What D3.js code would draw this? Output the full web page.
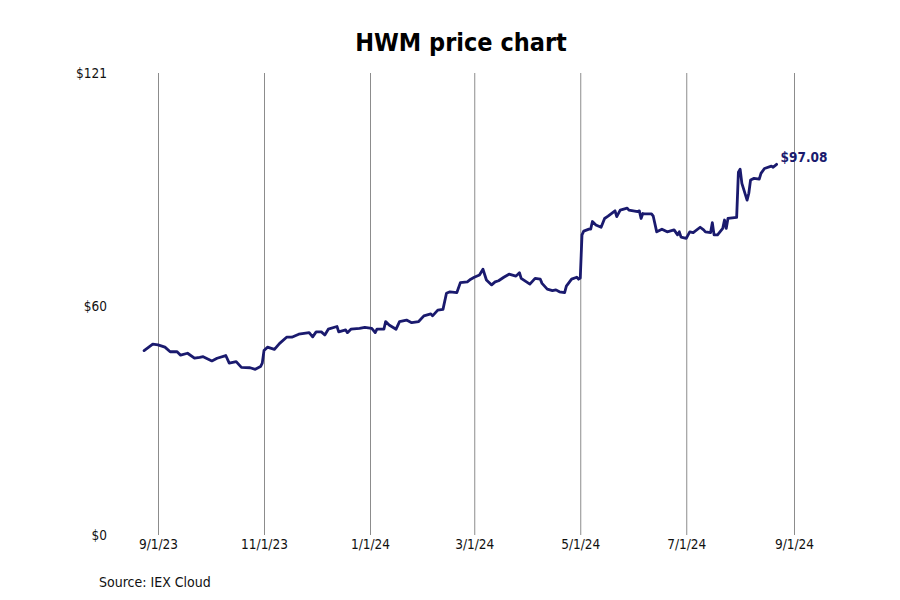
<!DOCTYPE html>
<html>
<head>
<meta charset="utf-8">
<script src="https://cdn.jsdelivr.net/npm/d3@7"></script>
<style>
  body { margin: 0; background: #fff; }
  text { font-family: "DejaVu Sans Condensed", "DejaVu Sans", sans-serif; }
</style>
</head>
<body>
<div id="chart"></div>
<script>
// HWM closing prices
var dates = [
  "2023-08-24","2023-08-29","2023-09-01","2023-09-05","2023-09-08","2023-09-12","2023-09-14","2023-09-18",
  "2023-09-22","2023-09-25","2023-09-27","2023-10-02","2023-10-05","2023-10-10","2023-10-12","2023-10-16",
  "2023-10-19","2023-10-24","2023-10-27","2023-10-30","2023-10-31","2023-11-01","2023-11-03","2023-11-07",
  "2023-11-10","2023-11-14","2023-11-17","2023-11-21","2023-11-27","2023-11-29","2023-12-01","2023-12-04",
  "2023-12-06","2023-12-08","2023-12-13","2023-12-14","2023-12-18","2023-12-19","2023-12-21","2023-12-26",
  "2023-12-29","2024-01-02","2024-01-04","2024-01-05","2024-01-09","2024-01-10","2024-01-12","2024-01-16",
  "2024-01-18","2024-01-22","2024-01-25","2024-01-29","2024-02-01","2024-02-05","2024-02-06","2024-02-09",
  "2024-02-12","2024-02-14","2024-02-16","2024-02-20","2024-02-22","2024-02-26","2024-02-28","2024-03-01",
  "2024-03-04","2024-03-06","2024-03-08","2024-03-11","2024-03-13","2024-03-15","2024-03-18","2024-03-21",
  "2024-03-25","2024-03-27","2024-03-28","2024-04-02","2024-04-05","2024-04-08","2024-04-09","2024-04-12",
  "2024-04-15","2024-04-17","2024-04-19","2024-04-22","2024-04-23","2024-04-26","2024-04-29","2024-04-30",
  "2024-05-01","2024-05-02","2024-05-03","2024-05-06","2024-05-07","2024-05-08","2024-05-10","2024-05-13",
  "2024-05-15","2024-05-17","2024-05-21","2024-05-22","2024-05-24","2024-05-28","2024-05-29","2024-06-03",
  "2024-06-04","2024-06-05","2024-06-06","2024-06-07","2024-06-11","2024-06-12","2024-06-14","2024-06-17",
  "2024-06-20","2024-06-24","2024-06-26","2024-06-27","2024-06-28","2024-07-01","2024-07-03","2024-07-05",
  "2024-07-09","2024-07-11","2024-07-12","2024-07-15","2024-07-16","2024-07-17","2024-07-19","2024-07-22",
  "2024-07-23","2024-07-24","2024-07-25","2024-07-30","2024-07-31","2024-08-01","2024-08-02","2024-08-05",
  "2024-08-06","2024-08-07","2024-08-09","2024-08-12","2024-08-13","2024-08-15","2024-08-19","2024-08-20",
  "2024-08-22"
];
var prices = [
  48.3, 50.0, 49.8, 49.2, 48.0, 48.0, 47.1, 47.6,
  46.3, 46.5, 46.7, 45.6, 46.3, 47.0, 45.0, 45.4,
  43.9, 43.8, 43.4, 44.1, 45.0, 48.3, 49.2, 48.6,
  50.2, 51.8, 51.8, 52.6, 53.0, 51.9, 53.2, 53.2,
  52.4, 53.9, 54.6, 53.2, 53.7, 53.0, 53.9, 54.1,
  54.4, 54.1, 53.0, 53.9, 53.9, 55.9, 55.0, 53.9,
  55.9, 56.3, 55.6, 55.9, 57.4, 57.9, 57.4, 58.9,
  59.1, 63.3, 63.7, 63.5, 66.1, 66.3, 67.0, 67.5,
  68.1, 69.6, 66.8, 65.5, 66.3, 66.6, 67.5, 68.3,
  67.8, 68.7, 67.2, 65.7, 67.2, 67.0, 65.9, 64.4,
  64.0, 64.2, 63.7, 63.5, 65.2, 67.0, 67.5, 67.0,
  67.3, 78.6, 79.6, 80.1, 80.1, 82.1, 81.2, 80.6,
  82.9, 83.5, 84.9, 83.4, 85.1, 85.6, 85.1, 84.7,
  84.9, 82.9, 84.2, 84.1, 84.1, 83.5, 79.4, 80.1,
  79.4, 79.9, 78.6, 79.4, 78.0, 77.7, 79.4, 79.2,
  80.6, 79.9, 79.4, 79.2, 81.8, 78.6, 78.6, 80.3,
  82.5, 80.3, 82.9, 83.2, 95.0, 95.8, 92.1, 87.7,
  89.5, 93.0, 93.4, 93.2, 94.7, 96.0, 96.6, 96.3,
  97.08
];
var tickDates = ["2023-09-01","2023-11-01","2024-01-01","2024-03-01","2024-05-01","2024-07-01","2024-09-01"];
var yTicks = [0, 60, 121];

var width = 900, height = 600;
var parse = d3.timeParse("%Y-%m-%d");
var fmtDate = d3.timeFormat("%-m/%-d/%y");

var data = dates.map((d, i) => ({ date: parse(d), price: prices[i] }));

var svg = d3.select("#chart").append("svg")
    .attr("width", width)
    .attr("height", height);

var x = d3.scaleTime()
    .domain([parse(tickDates[0]), parse(tickDates[tickDates.length - 1])])
    .range([158, 794]);

var y = d3.scaleLinear()
    .domain([0, 121])
    .range([535, 73]);

// vertical gridlines + date labels
var xAxis = d3.axisBottom(x)
    .tickValues(tickDates.map(parse))
    .tickFormat(fmtDate)
    .tickSize(y(121) - y(0))
    .tickPadding(6);

svg.append("g")
    .attr("transform", "translate(0," + y(0) + ")")
    .call(xAxis)
    .call(g => g.select(".domain").remove())
    .call(g => g.selectAll("line").attr("stroke", "#8c8c8c"))
    .call(g => g.selectAll("text")
        .attr("y", 4)
        .attr("dy", "0.71em")
        .attr("font-size", 13.5)
        .attr("font-family", "'DejaVu Sans Condensed', 'DejaVu Sans', sans-serif")
        .attr("fill", "#111"));

var yAxis = d3.axisLeft(y)
    .tickValues(yTicks)
    .tickFormat(d => "$" + d)
    .tickSize(0)
    .tickPadding(0);

svg.append("g")
    .attr("transform", "translate(107,0)")
    .call(yAxis)
    .call(g => g.select(".domain").remove())
    .call(g => g.selectAll("text")
        .attr("font-size", 13.5)
        .attr("font-family", "'DejaVu Sans Condensed', 'DejaVu Sans', sans-serif")
        .attr("fill", "#111"));

var line = d3.line()
    .x(d => x(d.date))
    .y(d => y(d.price));

svg.append("path")
    .datum(data)
    .attr("fill", "none")
    .attr("stroke", "#1a1a6e")
    .attr("stroke-width", 2.8)
    .attr("stroke-linejoin", "round")
    .attr("stroke-linecap", "round")
    .attr("d", line);

var last = data[data.length - 1];
svg.append("text")
    .attr("x", x(last.date) + 4)
    .attr("y", y(last.price) - 2)
    .attr("font-family", "'DejaVu Sans', sans-serif")
    .attr("font-weight", "bold")
    .attr("font-size", 13.5)
    .attr("fill", "#1a1a6e")
    .text("$" + last.price.toFixed(2));

svg.append("text")
    .attr("x", 461)
    .attr("y", 51)
    .attr("text-anchor", "middle")
    .attr("font-family", "'DejaVu Sans', sans-serif")
    .attr("font-weight", "bold")
    .attr("font-size", 25)
    .attr("fill", "#000")
    .text("HWM price chart");

svg.append("text")
    .attr("x", 99)
    .attr("y", 587)
    .attr("font-size", 14)
    .attr("fill", "#111")
    .text("Source: IEX Cloud");
</script>
</body>
</html>
